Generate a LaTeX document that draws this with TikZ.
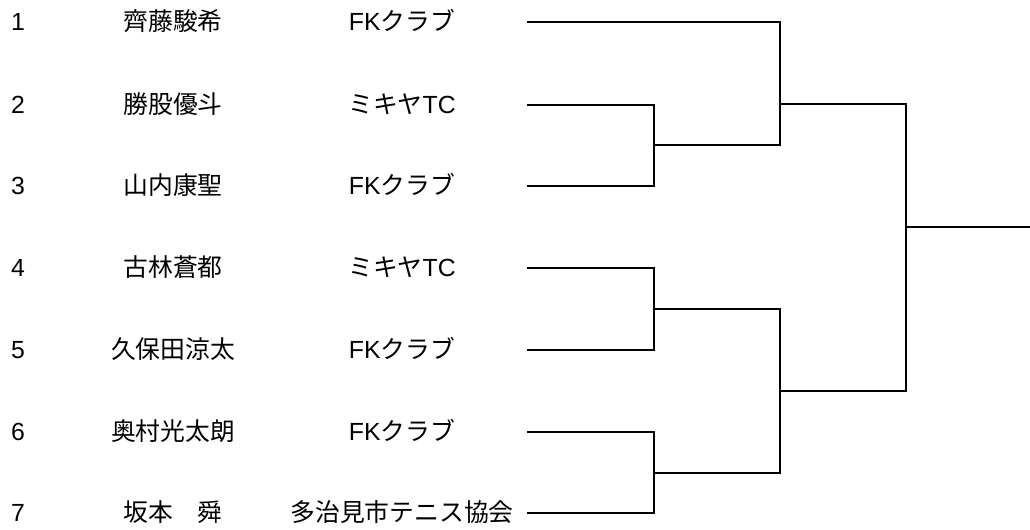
\documentclass[tikz,border=0pt]{standalone}
\usepackage{fontspec}
\setmainfont{Liberation Sans}
\newfontfamily\jp{Noto Sans CJK JP}
\begin{document}
\begin{tikzpicture}[x=0.75pt,y=-0.75pt,
  txt/.style={anchor=base,inner sep=0pt,font=\fontsize{18.6}{21}\selectfont},
  ln/.style={line width=1.1pt,line join=miter,line cap=rect},
  thk/.style={line width=1.7pt,line cap=rect}]
\useasboundingbox (0,0) rectangle (1030,529);
% rows
\foreach \i/\y/\name/\club in {
  1/22/{\jp 齊藤駿希}/{FK\jp クラブ},
  2/105/{\jp 勝股優斗}/{{\jp ミキヤ}TC},
  3/186/{\jp 山内康聖}/{FK\jp クラブ},
  4/268/{\jp 古林蒼都}/{{\jp ミキヤ}TC},
  5/350/{\jp 久保田涼太}/{FK\jp クラブ},
  6/432/{\jp 奥村光太朗}/{FK\jp クラブ},
  7/513/{\jp 坂本　舜}/{\jp 多治見市テニス協会}}{
  \node[txt] (n\i) at (18,\y+8.5) {\i};
  \node[txt] (p\i) at (173,\y+8.5) {\name};
  \node[txt] (c\i) at (402,\y+8.5) {\club};
  \coordinate (e\i) at (528,\y);
}
% junction coordinates
\coordinate (a2) at (654,105); \coordinate (a3) at (654,186);
\coordinate (m23) at (654,145);
\coordinate (a4) at (654,268); \coordinate (a5) at (654,350);
\coordinate (m45) at (654,309);
\coordinate (a6) at (654,432); \coordinate (a7) at (654,513);
\coordinate (m67) at (654,473);
\coordinate (b1) at (780,22); \coordinate (b23) at (780,145);
\coordinate (s1) at (780,104);
\coordinate (b45) at (780,309); \coordinate (b67) at (780,473);
\coordinate (s2) at (780,391);
\coordinate (t1) at (906,104); \coordinate (t2) at (906,391);
\coordinate (f) at (906,227); \coordinate (fe) at (1030,227);
% bracket
\draw[ln] (e1) -- (b1) -- (b23) -- (m23);
\draw[thk] (e2) -- (a2);
\draw[ln] (a2) -- (a3) -- (e3);
\draw[ln] (s1) -- (t1) -- (t2) -- (s2);
\draw[ln] (e4) -- (a4) -- (a5) -- (e5);
\draw[ln] (m45) -- (b45) -- (b67) -- (m67);
\draw[ln] (e6) -- (a6) -- (a7) -- (e7);
\draw[ln] (f) -- (fe);
\end{tikzpicture}
\end{document}
